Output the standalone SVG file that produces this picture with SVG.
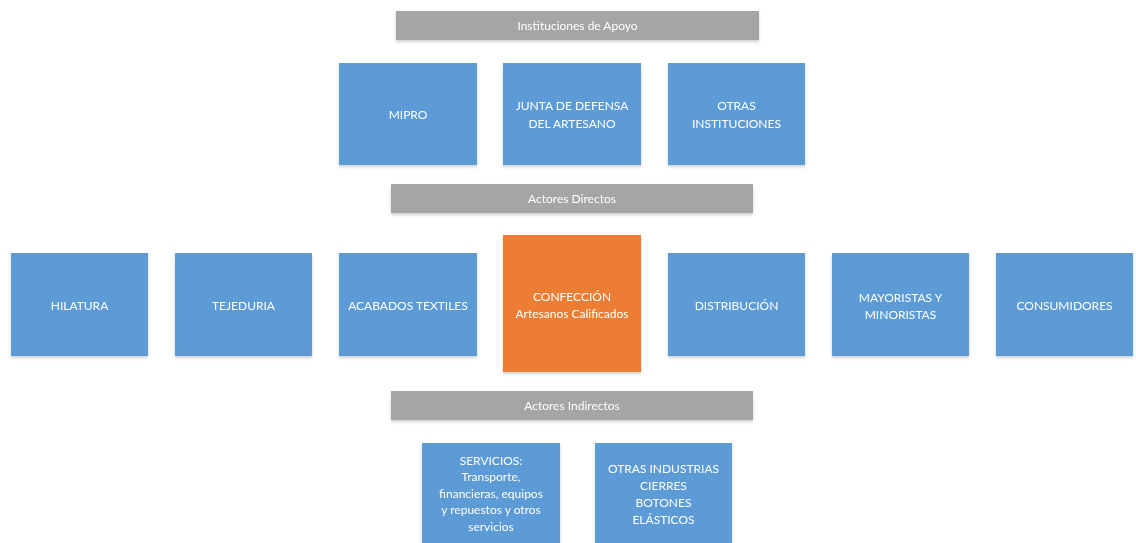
<svg xmlns="http://www.w3.org/2000/svg" width="1136" height="543" viewBox="0 0 1136 543">
<style>
.b{fill:#5B9BD5}
.o{fill:#ED7D31}
.g{fill:#A5A5A5}
text{font-family:Lato,"Open Sans","Liberation Sans",sans-serif;font-size:12px;fill:#fff;text-anchor:middle;dominant-baseline:central}
</style>
<defs>
<filter id="sh" x="-10%" y="-10%" width="120%" height="130%">
<feDropShadow dx="0" dy="2" stdDeviation="1.5" flood-color="#000" flood-opacity="0.18"/>
</filter>
</defs>
<rect width="1136" height="543" fill="#fff"/>
<g filter="url(#sh)">
<g id="inst-apoyo"><rect class="g" x="396" y="11" width="363" height="29"/><text x="577.5" y="25.5">Instituciones de Apoyo</text></g>
<g id="mipro"><rect class="b" x="339" y="63" width="138" height="102"/><text x="408" y="114">MIPRO</text></g>
<g id="junta"><rect class="b" x="503" y="63" width="138" height="102"/><text x="572" y="105">JUNTA DE DEFENSA</text><text x="572" y="123">DEL ARTESANO</text></g>
<g id="otras-inst"><rect class="b" x="668" y="63" width="137" height="102"/><text x="736.5" y="105">OTRAS</text><text x="736.5" y="123">INSTITUCIONES</text></g>
<g id="act-directos"><rect class="g" x="391" y="184" width="362" height="29"/><text x="572" y="198.5">Actores Directos</text></g>
<g id="hilatura"><rect class="b" x="11" y="253" width="137" height="103"/><text x="79.5" y="305">HILATURA</text></g>
<g id="tejeduria"><rect class="b" x="175" y="253" width="137" height="103"/><text x="243.5" y="305">TEJEDURIA</text></g>
<g id="acabados"><rect class="b" x="339" y="253" width="138" height="103"/><text x="408" y="305">ACABADOS TEXTILES</text></g>
<g id="confeccion"><rect class="o" x="503" y="235" width="138" height="137"/><text x="572" y="296">CONFECCIÓN</text><text x="572" y="313">Artesanos Calificados</text></g>
<g id="distribucion"><rect class="b" x="668" y="253" width="137" height="103"/><text x="736.5" y="305">DISTRIBUCIÓN</text></g>
<g id="mayoristas"><rect class="b" x="832" y="253" width="137" height="103"/><text x="900.5" y="297">MAYORISTAS Y</text><text x="900.5" y="314">MINORISTAS</text></g>
<g id="consumidores"><rect class="b" x="996" y="253" width="137" height="103"/><text x="1064.5" y="305">CONSUMIDORES</text></g>
<g id="act-indirectos"><rect class="g" x="391" y="391" width="362" height="29"/><text x="572" y="405.5">Actores Indirectos</text></g>
<g id="servicios"><rect class="b" x="422" y="443" width="138" height="110"/><text x="491" y="460">SERVICIOS:</text><text x="491" y="476">Transporte,</text><text x="491" y="493">financieras, equipos</text><text x="491" y="509">y repuestos y otros</text><text x="491" y="526">servicios</text></g>
<g id="otras-ind"><rect class="b" x="595" y="443" width="137" height="110"/><text x="663.5" y="468">OTRAS INDUSTRIAS</text><text x="663.5" y="485">CIERRES</text><text x="663.5" y="502">BOTONES</text><text x="663.5" y="519">ELÁSTICOS</text></g>
</g>
<g id="connectors"/>
</svg>
